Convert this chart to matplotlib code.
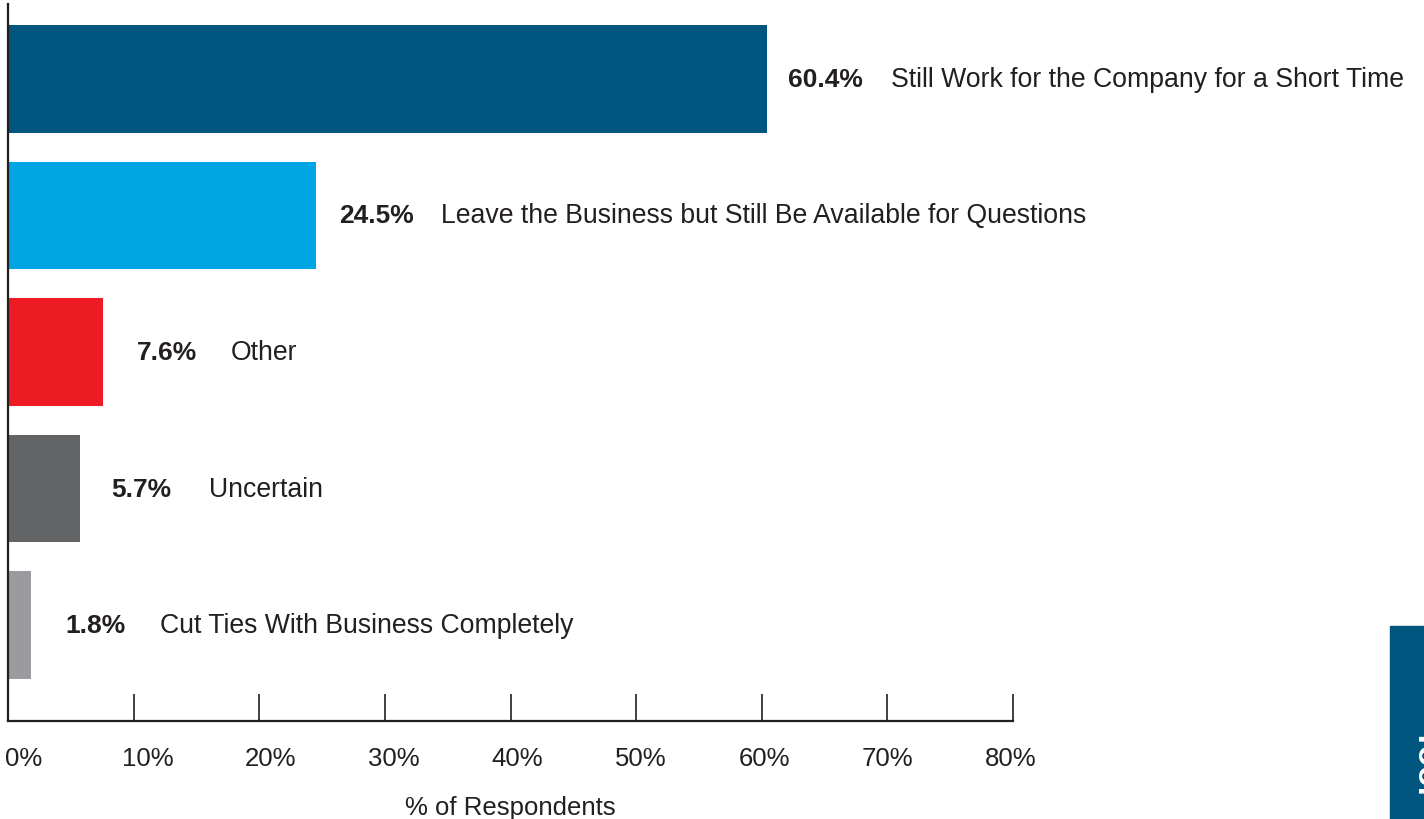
import matplotlib
matplotlib.use("Agg")
import matplotlib.pyplot as plt
import matplotlib.transforms as mtransforms
from matplotlib.patches import Rectangle

categories = ["Still Work for the Company for a Short Time",
              "Leave the Business but Still Be Available for Questions",
              "Other",
              "Uncertain",
              "Cut Ties With Business Completely"]
values = [60.4, 24.5, 7.6, 5.7, 1.8]
value_labels = ["60.4%", "24.5%", "7.6%", "5.7%", "1.8%"]
colors = ["#00567F", "#00A6E3", "#ED1C24", "#636466", "#9A9A9F"]
xticks = [0, 10, 20, 30, 40, 50, 60, 70, 80]
xtick_labels = ["0%", "10%", "20%", "30%", "40%", "50%", "60%", "70%", "80%"]
xlabel = "% of Respondents"
tab_text = "Tool"

plt.rcParams['font.family'] = ['Liberation Sans', 'DejaVu Sans']

W, H = 1424, 820
fig = plt.figure(figsize=(W / 100, H / 100), dpi=100)
ax = fig.add_axes([8 / W, 1 - 722 / H, (1013 - 8) / W, (722 - 5) / H])

n = len(values)
ypos = list(range(n - 1, -1, -1))
ax.barh(ypos, values, height=0.79, color=colors, zorder=2)
ax.set_xlim(0, 80)
ax.set_ylim(-0.703, n - 1 + 0.549)

gaps = [21, 23, 33, 32, 35]
gaps2 = [28, 27, 34, 37, 34]
for y, v, vl, cat, g, g2 in zip(ypos, values, value_labels, categories, gaps, gaps2):
    t = ax.annotate(vl, xy=(v, y), xytext=(g, 0), textcoords='offset pixels',
                    va='center', ha='left', fontsize=19, fontweight='bold',
                    color='#231F20')
    ax.annotate(cat, xy=(1, 0.5), xycoords=t, xytext=(g2, 0),
                textcoords='offset pixels', va='center', ha='left',
                fontsize=19.2, color='#231F20')

for s in ['top', 'right']:
    ax.spines[s].set_visible(False)
ax.spines['left'].set_linewidth(1.6)
ax.spines['left'].set_color('#231F20')
ax.spines['bottom'].set_linewidth(1.6)
ax.spines['bottom'].set_color('#231F20')
ax.set_yticks([])
ax.set_xticks(xticks)
ax.set_xticklabels(xtick_labels, fontsize=18.5, color='#231F20')
ax.tick_params(axis='x', direction='in', length=19.5, width=1.2,
               color='#231F20', pad=18)
for i, lab in enumerate(ax.get_xticklabels()):
    off = (16 - 2.25 * i) / 100
    lab.set_transform(lab.get_transform() +
                      mtransforms.ScaledTranslation(off, 0, fig.dpi_scale_trans))
ax.set_xlabel(xlabel, fontsize=18.5, color='#231F20', labelpad=18)

# decorative tab at bottom right
fig.patches.append(Rectangle((1390 / W, 0), 40 / W, (820 - 627) / H,
                             transform=fig.transFigure, color='#00567F',
                             zorder=0))
fig.text(1411 / W, 1 - 728 / H, tab_text, rotation=-90, color='white',
         fontsize=24, fontweight='bold', ha='left', va='top')

fig.savefig("out.png", dpi=100)
